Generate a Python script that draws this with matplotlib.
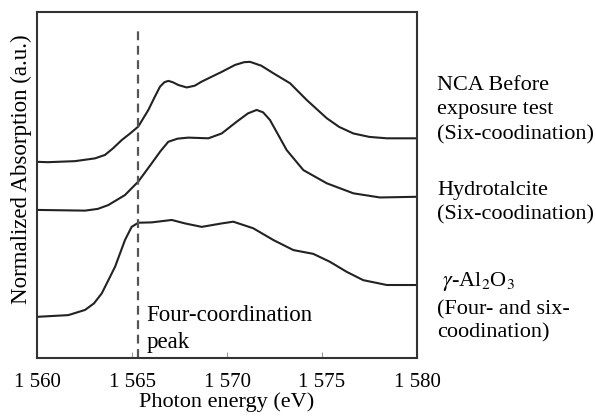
import matplotlib
matplotlib.use("Agg")
from matplotlib import pyplot as plt

plt.rcParams['font.family'] = ['Liberation Serif', 'DejaVu Serif']
plt.rcParams['mathtext.fontset'] = 'stix'

# photon energy (eV) and normalized absorption (a.u.)
nca_x = [1560.0, 1560.58, 1562.0, 1563.05, 1563.58, 1564.0, 1564.46, 1564.9,
         1565.33, 1565.86, 1566.2, 1566.47, 1566.7, 1566.91, 1567.15, 1567.44,
         1567.88, 1568.3, 1568.67, 1569.72, 1570.42, 1570.9, 1571.21, 1571.8,
         1572.44, 1573.32, 1574.19, 1575.25, 1575.9, 1576.65, 1577.5, 1578.41,
         1580.0]
nca_y = [5.67, 5.66, 5.69, 5.77, 5.87, 6.06, 6.30, 6.49,
         6.69, 7.17, 7.55, 7.84, 7.97, 8.01, 7.97, 7.89,
         7.82, 7.87, 7.99, 8.27, 8.47, 8.55, 8.56, 8.45,
         8.23, 7.94, 7.46, 6.93, 6.68, 6.49, 6.39, 6.35,
         6.35]

hydro_x = [1560.0, 1562.53, 1563.2, 1563.75, 1564.63, 1565.33, 1566.04, 1566.5,
           1566.91, 1567.4, 1567.96, 1569.02, 1569.72, 1570.51, 1571.1, 1571.56,
           1571.9, 1572.26, 1573.14, 1574.02, 1575.25, 1576.65, 1578.05, 1580.0]
hydro_y = [4.28, 4.26, 4.31, 4.42, 4.71, 5.10, 5.63, 5.98,
           6.25, 6.34, 6.37, 6.35, 6.49, 6.83, 7.07, 7.17,
           7.10, 6.88, 6.01, 5.43, 5.05, 4.76, 4.64, 4.66]

alo_x = [1560.0, 1561.65, 1562.53, 1563.0, 1563.41, 1564.11, 1564.63, 1564.98,
         1565.33, 1566.04, 1567.09, 1567.79, 1568.67, 1569.72, 1570.33, 1571.38,
         1572.44, 1573.49, 1574.54, 1575.42, 1576.30, 1577.17, 1578.41, 1580.0]
alo_y = [1.19, 1.24, 1.39, 1.58, 1.87, 2.64, 3.41, 3.79,
         3.91, 3.92, 3.99, 3.89, 3.79, 3.89, 3.94, 3.75,
         3.41, 3.12, 3.01, 2.78, 2.49, 2.25, 2.11, 2.11]

peak_x = 1565.3
x_ticks = [1560, 1565, 1570, 1575, 1580]
x_tick_labels = ["1 560", "1 565", "1 570", "1 575", "1 580"]

fig = plt.figure(figsize=(5.96, 4.16), dpi=100)
ax = fig.add_axes([0.0621, 0.1394, 0.6376, 0.8317])

for xs, ys in [(nca_x, nca_y), (hydro_x, hydro_y), (alo_x, alo_y)]:
    ax.plot(xs, ys, color='#222222', lw=1.5)

ax.plot([peak_x, peak_x], [0, 9.54], color='#555555', lw=1.6,
        dashes=(4, 2.5))

ax.set_xlim(1560, 1580)
ax.set_ylim(0, 10)
ax.set_xticks(x_ticks, x_tick_labels, fontsize=15)
ax.set_yticks([])
ax.tick_params(axis='x', direction='in', length=4, color='#999999', pad=11)
for s in ax.spines.values():
    s.set_color('#333333')
    s.set_linewidth(1.5)

ax.set_xlabel("Photon energy (eV)", fontsize=16, labelpad=0)
ax.set_ylabel("Normalized Absorption (a.u.)", fontsize=16.5)
ax.yaxis.set_label_coords(-0.014, 0.546)

ax.text(1565.75, 0.15, "Four-coordination\npeak", fontsize=16.5,
        va='bottom', ha='left', linespacing=1.35)

tr = ax.get_yaxis_transform()
ax.text(1.053, 7.17, "NCA Before\nexposure test\n(Six-coodination)",
        transform=tr, fontsize=16, va='center', ha='left', linespacing=1.4,
        clip_on=False)
ax.text(1.053, 4.49, "Hydrotalcite\n(Six-coodination)", transform=tr,
        fontsize=16, va='center', ha='left', linespacing=1.4, clip_on=False)
ax.text(1.065, 2.2, r"$\gamma$-Al$_2$O$_3$", transform=tr,
        fontsize=16, va='center', ha='left', clip_on=False)
ax.text(1.053, 1.05, "(Four- and six-\ncoodination)", transform=tr,
        fontsize=16, va='center', ha='left', linespacing=1.25, clip_on=False)

plt.savefig("out.png", dpi=100)
